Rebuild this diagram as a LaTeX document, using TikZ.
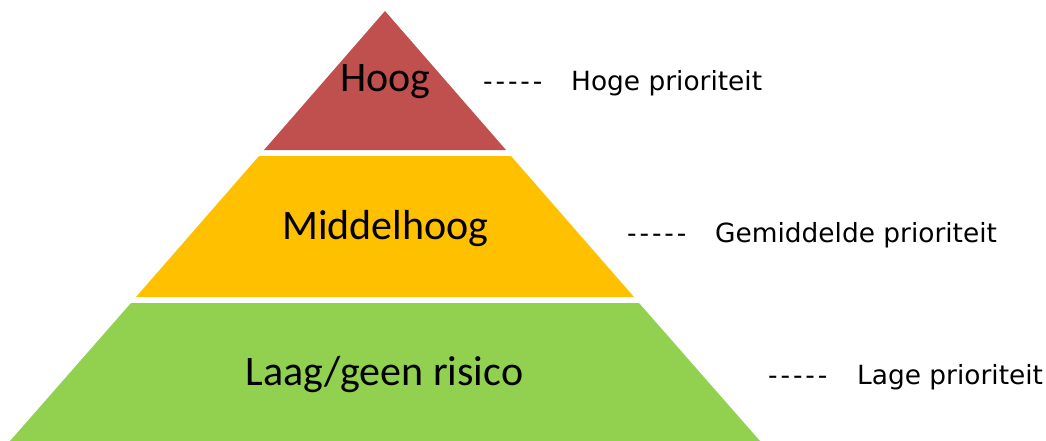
\documentclass[tikz,border=0pt]{standalone}
\usepackage{fontspec}
\setmainfont{Carlito}
\newfontfamily\notefont{DejaVu Sans}
\definecolor{hoogred}{HTML}{C0504D}
\definecolor{middelyellow}{HTML}{FFC000}
\definecolor{laaggreen}{HTML}{92D050}
\begin{document}
\begin{tikzpicture}[x=1pt, y=-1pt,
        tier/.style={anchor=base, font=\fontsize{42}{42}\selectfont},
        prio/.style={anchor=base west, inner sep=0pt, font=\notefont\fontsize{26.4}{26.4}\selectfont},
        dashtext/.style={prio, font=\notefont\fontsize{26.4}{26.4}\selectfont\addfontfeature{LetterSpace=11}}]
            \useasboundingbox (0, 0) rectangle (1046, 441);
            %\draw[lightgray] (0, 0) grid (3, 3);
            \fill[hoogred] (385, 11) -- (264, 150) -- (506, 150) -- cycle;
            \fill[middelyellow] (259, 156) -- (511, 156) -- (634, 297) -- (136, 297) -- cycle;
            \fill[laaggreen] (131, 303) -- (639, 303) -- (760, 441) -- (10, 441) -- cycle;
            \node[tier] (hoog) at (385.5, 92) {Hoog};
            \node[tier] (middel) at (385.5, 239) {Middelhoog};
            \node[tier] (laag) at (384.5, 385) {Laag/geen risico};
            \node[dashtext] (d1) at (483, 91) {-----};
            \node[dashtext] (d2) at (627, 242) {-----};
            \node[dashtext] (d3) at (768, 384) {-----};
            \node[prio] (p1) at (571, 91) {Hoge prioriteit};
            \node[prio] (p2) at (715, 242) {Gemiddelde prioriteit};
            \node[prio] (p3) at (857, 384) {Lage prioriteit};
        \end{tikzpicture}
\end{document}
